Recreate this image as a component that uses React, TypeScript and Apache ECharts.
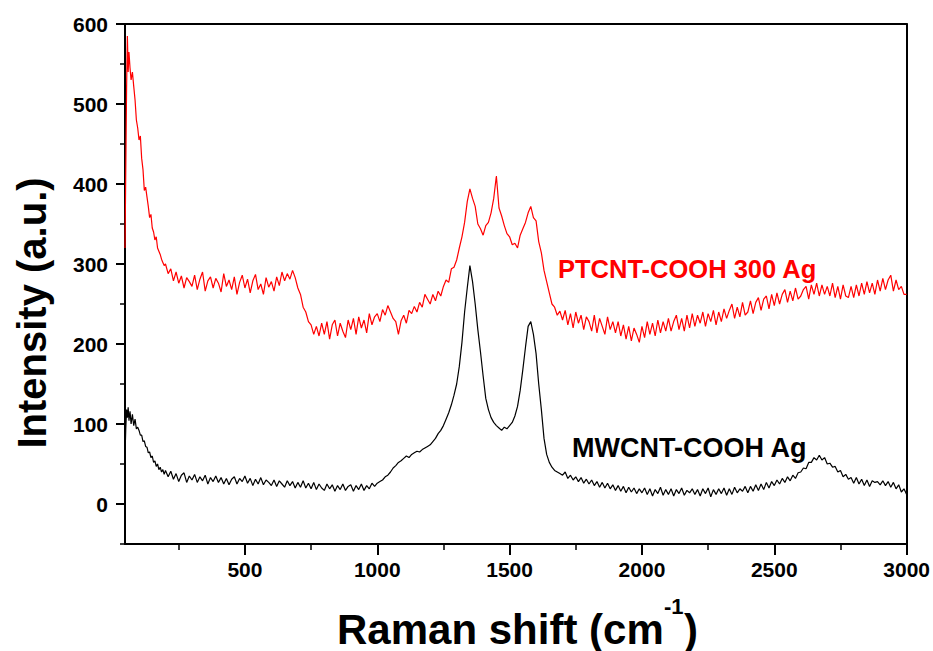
import { useEffect, useRef } from "react";
import * as echarts from "echarts";

// Raman shift sampling (cm^-1): dense at the start, then every 10 cm^-1 up to 3000
const startShift = [47, 50, 53, 56, 59, 62, 66, 70, 75, 80, 85, 90, 95, 100, 105, 110, 115, 120, 125, 130, 135, 140, 145, 150, 155, 160, 165, 170, 175, 180, 185, 190, 195];
const gridShift = Array.from({ length: 281 }, (_, i) => 200 + 10 * i);
const ramanShift = [...startShift, ...gridShift];

// PTCNT-COOH 300 Ag (red)
const ptcntStart = [320, 420, 520, 585, 540, 565, 545, 530, 540, 522, 505, 480, 470, 455, 460, 432, 418, 392, 396, 384, 372, 358, 362, 345, 340, 330, 334, 320, 316, 312, 306, 302, 298];
const ptcntMain = [
  300, 288, 294, 279, 290, 276, 285, 270, 283, 278,
  272, 286, 268, 281, 290, 266, 279, 284, 270, 282,
  276, 265, 288, 272, 280, 268, 284, 262, 277, 286,
  270, 281, 264, 279, 287, 268, 275, 262, 283, 271,
  278, 266, 284, 273, 290, 279, 288, 281, 292, 283,
  270, 262, 246, 240, 228, 224, 212, 222, 210, 226,
  212, 228, 206, 224, 230, 210, 226, 216, 208, 230,
  218, 232, 212, 234, 220, 230, 214, 238, 224, 234,
  238, 228, 243, 236, 248, 240, 232, 228, 212, 229,
  236, 226, 242, 238, 247, 240, 252, 246, 262, 256,
  250, 262, 254, 266, 260, 272, 280, 277, 294, 296,
  305, 320, 334, 352, 378, 394, 382, 372, 350, 344,
  336, 348, 352, 364, 382, 410, 370, 360, 348, 338,
  334, 324, 326, 320, 336, 344, 352, 364, 372, 358,
  354, 328, 314, 292, 278, 264, 250, 246, 236, 241,
  230, 242, 224, 238, 220, 240, 226, 236, 218, 234,
  228, 216, 236, 214, 232, 222, 212, 234, 218, 228,
  214, 228, 210, 224, 206, 222, 204, 220, 212, 202,
  222, 208, 228, 212, 226, 210, 230, 214, 228, 216,
  232, 216, 228, 236, 218, 232, 216, 236, 220, 238,
  222, 236, 226, 240, 222, 238, 228, 242, 224, 240,
  228, 244, 232, 242, 250, 232, 246, 234, 252, 236,
  240, 254, 238, 252, 258, 242, 256, 260, 244, 262,
  248, 264, 250, 262, 268, 252, 266, 254, 270, 256,
  260, 268, 272, 256, 274, 262, 276, 260, 274, 262,
  272, 260, 276, 258, 272, 256, 274, 260, 258, 272,
  258, 274, 260, 276, 262, 278, 264, 276, 262, 280,
  266, 282, 268, 280, 286, 266, 280, 268, 272, 262,
  262,
];

// MWCNT-COOH Ag (black)
const mwcntStart = [60, 95, 118, 108, 121, 104, 116, 100, 112, 98, 106, 94, 96, 92, 86, 86, 78, 79, 72, 71, 64, 65, 58, 60, 52, 54, 47, 50, 43, 46, 40, 43, 37];
const mwcntMain = [
  42, 34, 41, 31, 38, 28, 36, 39, 27, 35,
  30, 37, 27, 34, 29, 36, 25, 33, 28, 35,
  27, 33, 25, 32, 24, 31, 34, 25, 32, 28,
  35, 26, 32, 23, 31, 25, 33, 24, 30, 27,
  23, 30, 22, 29, 25, 21, 29, 23, 28, 20,
  27, 21, 29, 20, 26, 19, 27, 18, 25, 20,
  17, 25, 19, 24, 16, 23, 18, 25, 17, 22,
  24, 16, 23, 18, 25, 17, 23, 19, 26, 22,
  26, 28, 30, 34, 36, 40, 45, 48, 52, 54,
  57, 60, 58, 62, 64, 66, 65, 68, 70, 72,
  74, 78, 82, 88, 92, 98, 106, 114, 124, 136,
  150, 172, 202, 240, 270, 298, 278, 250, 218, 190,
  160, 132, 118, 108, 102, 98, 95, 92, 96, 94,
  98, 102, 110, 122, 142, 168, 196, 222, 228, 212,
  188, 150, 118, 82, 62, 52, 46, 42, 40, 38,
  36, 40, 32, 36, 30, 34, 28, 33, 26, 31,
  25, 30, 23, 28, 21, 27, 20, 26, 19, 24,
  17, 23, 16, 22, 14, 21, 15, 20, 13, 19,
  14, 20, 12, 19, 10, 18, 13, 21, 11, 18,
  12, 19, 10, 18, 13, 20, 11, 17, 14, 19,
  12, 18, 10, 19, 13, 20, 9, 18, 12, 19,
  13, 20, 11, 19, 12, 21, 14, 19, 16, 22,
  14, 22, 16, 24, 17, 25, 18, 27, 20, 28,
  23, 30, 25, 32, 27, 34, 29, 36, 32, 39,
  40, 45, 44, 52, 52, 58, 55, 61, 55, 58,
  50, 51, 46, 47, 40, 42, 34, 37, 31, 33,
  26, 33, 25, 31, 23, 30, 22, 29, 27, 28,
  24, 29, 23, 28, 21, 27, 19, 24, 15, 19,
  12,
];

const ptcntValues = [...ptcntStart, ...ptcntMain];
const mwcntValues = [...mwcntStart, ...mwcntMain];

const xMajorTicks = [500, 1000, 1500, 2000, 2500, 3000];
const xMinorTicks = [250, 750, 1250, 1750, 2250, 2750];
const yMajorTicks = [0, 100, 200, 300, 400, 500, 600];
const yMinorTicks = [-50, 50, 150, 250, 350, 450, 550];

const seriesNames = ["PTCNT-COOH 300 Ag", "MWCNT-COOH Ag"];

const FONT = '"Liberation Sans", Arial, Helvetica, sans-serif';
const X_MIN = 47;
const X_MAX = 3000;
const Y_MIN = -50;
const Y_MAX = 600;

export default function App() {
  const ref = useRef<HTMLDivElement>(null);

  useEffect(() => {
    if (!ref.current) return;
    const chart = echarts.init(ref.current, undefined, { renderer: "svg" });

    const toPairs = (vals: number[]) => vals.map((v, i) => [ramanShift[i], v]);
    const plain = (v: number) => String(v);

    const baseX = {
      type: "value" as const,
      min: X_MIN,
      max: X_MAX,
      splitLine: { show: false },
    };
    const baseY = {
      type: "value" as const,
      min: Y_MIN,
      max: Y_MAX,
      splitLine: { show: false },
    };

    chart.setOption({
      animation: false,
      backgroundColor: "#ffffff",
      grid: { left: 125, top: 24, right: 21, bottom: 107, containLabel: false },
      xAxis: [
        {
          ...baseX,
          position: "bottom",
          axisLine: { show: true, onZero: false, lineStyle: { color: "#000", width: 2 } },
          axisTick: { show: true, inside: false, length: 11, customValues: xMajorTicks, lineStyle: { color: "#000", width: 2 } },
          axisLabel: {
            show: true,
            customValues: xMajorTicks,
            formatter: plain,
            margin: 15,
            color: "#000",
            fontFamily: FONT,
            fontWeight: "bold",
            fontSize: 21,
          },
        },
        {
          ...baseX,
          position: "bottom",
          axisLine: { show: false, onZero: false },
          axisTick: { show: true, inside: false, length: 6, customValues: xMinorTicks, lineStyle: { color: "#000", width: 1.5 } },
          axisLabel: { show: false },
        },
        {
          ...baseX,
          position: "top",
          axisLine: { show: true, onZero: false, lineStyle: { color: "#000", width: 2 } },
          axisTick: { show: false },
          axisLabel: { show: false },
        },
      ],
      yAxis: [
        {
          ...baseY,
          position: "left",
          axisLine: { show: true, onZero: false, lineStyle: { color: "#000", width: 2 } },
          axisTick: { show: true, inside: false, length: 9, customValues: yMajorTicks, lineStyle: { color: "#000", width: 2 } },
          axisLabel: {
            show: true,
            customValues: yMajorTicks,
            formatter: plain,
            margin: 17,
            color: "#000",
            fontFamily: FONT,
            fontWeight: "bold",
            fontSize: 21,
          },
        },
        {
          ...baseY,
          position: "left",
          axisLine: { show: false, onZero: false },
          axisTick: { show: true, inside: false, length: 5, customValues: yMinorTicks, lineStyle: { color: "#000", width: 1.5 } },
          axisLabel: { show: false },
        },
        {
          ...baseY,
          position: "right",
          axisLine: { show: true, onZero: false, lineStyle: { color: "#000", width: 2 } },
          axisTick: { show: false },
          axisLabel: { show: false },
        },
      ],
      series: [
        {
          name: seriesNames[0],
          type: "line",
          xAxisIndex: 0,
          yAxisIndex: 0,
          data: toPairs(ptcntValues),
          showSymbol: false,
          symbol: "none",
          lineStyle: { color: "#ff0000", width: 1.2 },
          itemStyle: { color: "#ff0000" },
        },
        {
          name: seriesNames[1],
          type: "line",
          xAxisIndex: 0,
          yAxisIndex: 0,
          data: toPairs(mwcntValues),
          showSymbol: false,
          symbol: "none",
          lineStyle: { color: "#000000", width: 1.2 },
          itemStyle: { color: "#000000" },
        },
      ],
      graphic: [
        {
          type: "text",
          x: 32,
          y: 313,
          rotation: Math.PI / 2,
          style: {
            text: "Intensity (a.u.)",
            fontFamily: FONT,
            fontWeight: "bold",
            fontSize: 40,
            fill: "#000",
            align: "center",
            verticalAlign: "middle",
          },
        },
        {
          type: "text",
          x: 337,
          y: 629,
          style: {
            text: "Raman shift (cm",
            fontFamily: FONT,
            fontWeight: "bold",
            fontSize: 42,
            fill: "#000",
            align: "left",
            verticalAlign: "middle",
          },
        },
        {
          type: "text",
          x: 664,
          y: 606,
          style: {
            text: "-1",
            fontFamily: FONT,
            fontWeight: "bold",
            fontSize: 22,
            fill: "#000",
            align: "left",
            verticalAlign: "middle",
          },
        },
        {
          type: "text",
          x: 684,
          y: 629,
          style: {
            text: ")",
            fontFamily: FONT,
            fontWeight: "bold",
            fontSize: 42,
            fill: "#000",
            align: "left",
            verticalAlign: "middle",
          },
        },
        {
          type: "text",
          x: 558,
          y: 269,
          style: {
            text: seriesNames[0],
            fontFamily: FONT,
            fontWeight: "bold",
            fontSize: 25.5,
            fill: "#ff0000",
            align: "left",
            verticalAlign: "middle",
          },
        },
        {
          type: "text",
          x: 572,
          y: 448,
          style: {
            text: seriesNames[1],
            fontFamily: FONT,
            fontWeight: "bold",
            fontSize: 27,
            fill: "#000000",
            align: "left",
            verticalAlign: "middle",
          },
        },
      ],
    });

    return () => chart.dispose();
  }, []);

  return (
    <div
      ref={ref}
      style={{ position: "fixed", left: 0, top: 0, width: 933, height: 651, background: "#fff" }}
    />
  );
}
